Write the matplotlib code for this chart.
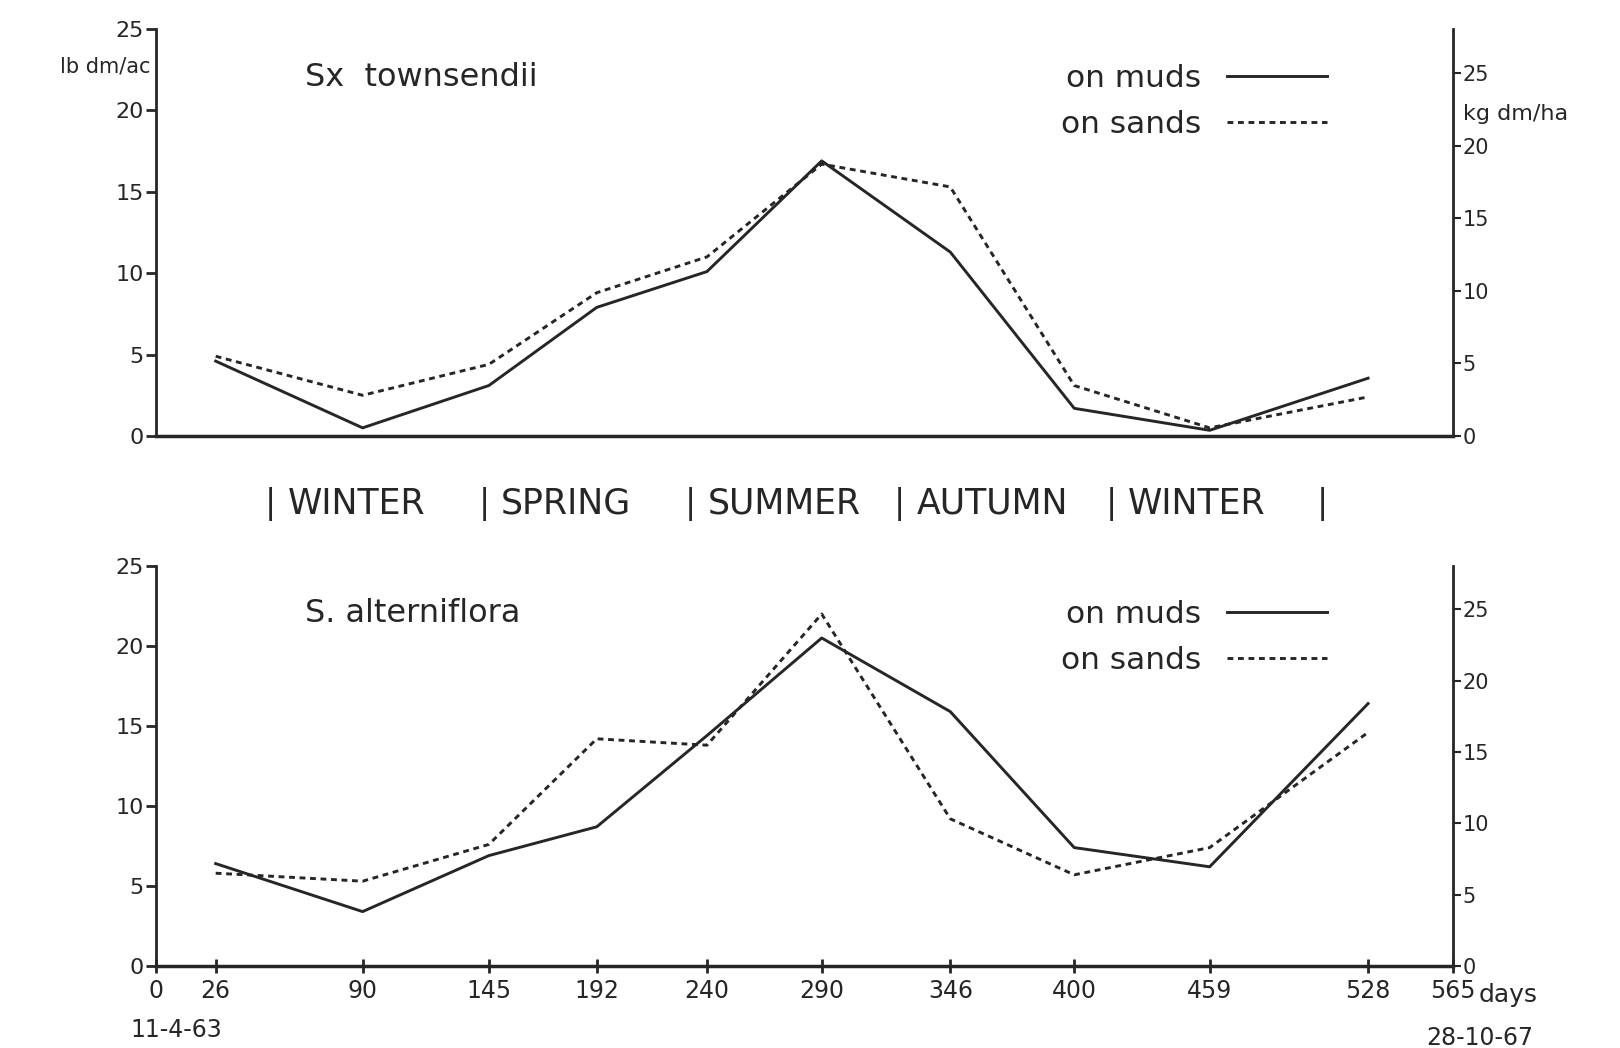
import matplotlib.pyplot as plt

# sampling days (days since 11-4-63) and dry matter, lb dm/ac
days = [26, 90, 145, 192, 240, 290, 346, 400, 459, 528]
townsendii_muds = [4.6, 0.5, 3.1, 7.9, 10.1, 16.9, 11.3, 1.7, 0.35, 3.55]
townsendii_sands = [4.9, 2.5, 4.4, 8.8, 11.0, 16.7, 15.3, 3.1, 0.5, 2.4]
alterniflora_muds = [6.4, 3.4, 6.9, 8.7, 14.4, 20.5, 15.9, 7.4, 6.2, 16.4]
alterniflora_sands = [5.8, 5.3, 7.6, 14.2, 13.8, 22.0, 9.2, 5.7, 7.4, 14.6]

x_ticks = [0, 26, 90, 145, 192, 240, 290, 346, 400, 459, 528, 565]
lb_ticks = [0, 5, 10, 15, 20, 25]
kg_ticks = [0, 5, 10, 15, 20, 25]
season_names = ['WINTER', 'SPRING', 'SUMMER', 'AUTUMN', 'WINTER']
season_bounds = [50, 143, 233, 324, 416, 508]

LB_TO_KG = 1.12085
INK = '#262626'
DOTTED = (0, (2.0, 1.6))

fig = plt.figure(figsize=(16.2, 10.48), dpi=100)
ax1 = fig.add_axes([156 / 1620, 612 / 1048, 1297 / 1620, 407 / 1048])
ax2 = fig.add_axes([156 / 1620, 82 / 1048, 1297 / 1620, 400 / 1048])


def setup_panel(ax, title, muds, sands, show_x):
    ax.plot(days, muds, color=INK, ls='-', lw=2.1, label='on muds')
    ax.plot(days, sands, color=INK, ls=DOTTED, lw=2.1, label='on sands')
    ax.set_xlim(0, 565)
    ax.set_ylim(0, 25)
    ax.set_yticks(lb_ticks)
    ax.spines[['top', 'right']].set_visible(False)
    ax.spines['left'].set_linewidth(2.0)
    ax.spines['bottom'].set_linewidth(2.5)
    for s in ax.spines.values():
        s.set_color(INK)
    ax.tick_params(axis='y', direction='out', length=7, width=2, labelsize=16,
                   pad=2, colors=INK)
    if show_x:
        ax.set_xticks(x_ticks)
        ax.tick_params(axis='x', direction='inout', length=10, width=2,
                       labelsize=17, pad=4, colors=INK)
    else:
        ax.tick_params(axis='x', bottom=False, labelbottom=False)

    # right hand axis in kg dm/ha
    twin = ax.twinx()
    twin.set_ylim(0, 25 * LB_TO_KG)
    twin.set_yticks(kg_ticks)
    twin.spines[['top', 'left', 'bottom']].set_visible(False)
    twin.spines['right'].set_linewidth(2.0)
    twin.spines['right'].set_color(INK)
    twin.tick_params(axis='y', direction='out', length=6, width=1.5, labelsize=15,
                     pad=1, colors=INK)

    ax.text(0.115, 0.88, title, transform=ax.transAxes, ha='left', va='center',
            fontsize=23, color=INK)
    ax.legend(loc='upper left', bbox_to_anchor=(0.698, 0.915), frameon=False,
              markerfirst=False, fontsize=22.5, handlelength=3.2, handletextpad=0.8,
              labelspacing=0.55, borderpad=0, borderaxespad=0, labelcolor=INK)
    return twin


setup_panel(ax1, 'Sx  townsendii', townsendii_muds, townsendii_sands, False)
setup_panel(ax2, 'S. alterniflora', alterniflora_muds, alterniflora_sands, True)

# units
ax1.text(-0.004, 0.907, 'lb dm/ac', transform=ax1.transAxes, ha='right', va='center',
         fontsize=15, color=INK)
ax1.text(1.008, 0.79, 'kg dm/ha', transform=ax1.transAxes, ha='left', va='center',
         fontsize=16, color=INK)

# seasons between the panels
strip = ax2.get_xaxis_transform()
for b in season_bounds:
    ax2.text(b, 1.155, '|', transform=strip, ha='center', va='center',
             fontsize=24, color=INK)
for name, b in zip(season_names, season_bounds[:-1]):
    ax2.annotate(name, xy=(b, 1.155), xycoords=strip, xytext=(12, 0),
                 textcoords='offset points', ha='left', va='center',
                 fontsize=25, color=INK)

# dates under the time axis
ax2.text(1.02, -0.072, 'days', transform=ax2.transAxes, ha='left', va='center',
         fontsize=18, color=INK)
ax2.text(0.0154, -0.16, '11-4-63', transform=ax2.transAxes, ha='center', va='center',
         fontsize=17, color=INK)
ax2.text(1.021, -0.18, '28-10-67', transform=ax2.transAxes, ha='center', va='center',
         fontsize=17, color=INK)

fig.savefig('out.png', dpi=100, facecolor='white')
